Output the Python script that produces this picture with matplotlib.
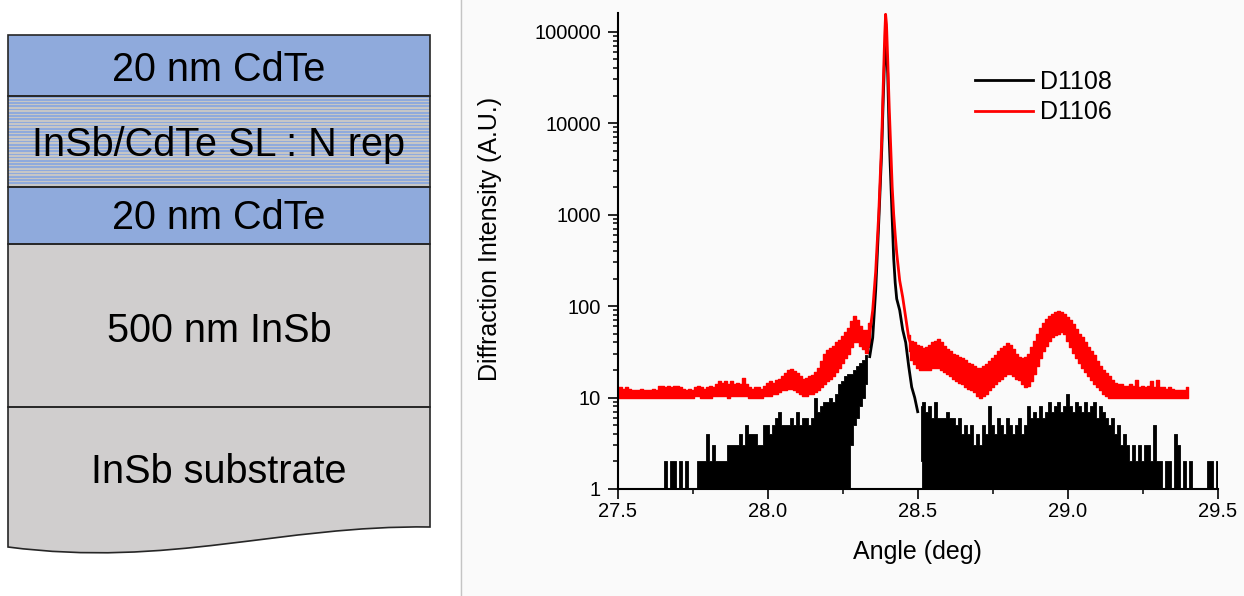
import numpy as np
import matplotlib
matplotlib.use("Agg")
import matplotlib.pyplot as plt
from matplotlib.patches import Rectangle, PathPatch
from matplotlib.path import Path
from matplotlib.lines import Line2D
from matplotlib.ticker import MultipleLocator, LogLocator, NullFormatter

plt.rcParams['font.family'] = ['Liberation Sans', 'DejaVu Sans']

nan = np.nan

# ---- layer stack (left panel) ----
layer_labels = ["20 nm CdTe", "InSb/CdTe SL : N rep", "20 nm CdTe",
                "500 nm InSb", "InSb substrate"]
layer_colors = ["#8faadc", "#8faadc", "#8faadc", "#d0cece", "#d0cece"]

# ---- XRD scan (right panel) ----
# measurement grid: 27.50 ... 29.50 deg, 0.01 deg
angle = np.round(27.50 + 0.01 * np.arange(201), 2)

# D1108 (black): lower / upper envelope of the noisy trace
black_hi = [1, 1, 1, 1, 1, 1, 1, 1, 1, 1,
            1, 1, 1, 1, 1, 1, 2, 1, 2, 2,
            1, 2, 1, 2, 1, 1, 1, 2, 2, 2,
            4, 2, 3, 2, 2, 2, 2, 3, 3, 3,
            3, 4, 3, 5, 4, 4, 4, 3, 3, 5,
            5, 4, 5, 6, 7, 5, 5, 5, 6, 5,
            7, 5, 6, 6, 5, 6, 10, 7, 8, 9,
            9, 10, 9, 11, 14, 15, 17, 18, 18, 20,
            22, 24, 26, 29, nan, nan, nan, nan, nan, nan,
            nan, nan, nan, nan, nan, nan, nan, nan, nan, nan,
            nan, 8, 9, 7, 8, 6, 9, 6, 6, 6,
            7, 6, 6, 5, 6, 4, 5, 4, 5, 3,
            4, 3, 5, 4, 8, 5, 4, 6, 5, 4,
            6, 5, 4, 5, 6, 4, 5, 8, 6, 7,
            6, 8, 6, 7, 9, 7, 8, 9, 7, 8,
            11, 8, 7, 9, 8, 7, 9, 7, 8, 9,
            6, 8, 7, 6, 5, 6, 4, 5, 3, 4,
            3, 2, 3, 2, 3, 2, 3, 3, 2, 5,
            2, 2, 1, 2, 2, 1, 4, 3, 1, 2,
            1, 2, 1, 1, 1, 1, 1, 2, 2, 1,
            2]
black_lo = [1] * 78 + [3, 5, 6, 8, 10, 14] + [nan] * 17 + [2] + [1] * 99

# D1106 (red): 27.50 ... 29.40 deg
red_lo = [10, 10, 10, 10, 10, 10, 10, 10, 10, 10,
          10, 10, 10, 10, 10, 10, 10, 10, 10, 10,
          10, 10, 10, 10, 10, 10, 10.5, 10.5, 10, 10,
          10, 10, 10.5, 10.5, 10.5, 10.5, 10.5, 10, 10.5, 10.5,
          10.5, 10.5, 10.5, 10.5, 10, 10, 10, 10, 10, 10.5,
          10.5, 10.5, 11, 11, 11.5, 12, 12, 12.5, 12.5, 12,
          11.5, 11, 10.5, 10.5, 11, 11, 11.5, 12, 13, 14,
          15, 16, 17, 19, 21, 24, 27, 30, 36, 40,
          40, 37, 34, 31, 36, nan, nan, nan, nan, nan,
          nan, nan, nan, nan, nan, nan, nan, 32, 26, 23,
          21, 20, 20, 20, 20, 21, 21, 21, 20, 19,
          18, 17, 16, 15, 14.5, 14, 13, 12.5, 12, 11.5,
          10.5, 10, 10.5, 11, 12, 13, 14, 15, 16, 17,
          18, 18, 17, 16, 15.5, 14, 13, 13.5, 15, 18,
          22, 27, 32, 37, 42, 46, 48, 50, 52, 50,
          42, 36, 31, 27, 24, 21, 19, 17, 15.5, 14,
          13, 12, 11, 10.5, 10, 10, 10, 10, 10, 10,
          10, 10, 10, 10, 10, 10, 10, 10, 10, 10,
          10, 10, 10, 10, 10, 10, 10, 10, 10, 10,
          10]
red_hi = [13, 13, 12.5, 13, 12.5, 12, 12, 12, 12.5, 12,
          12, 12, 12.5, 12, 13.5, 13.5, 13, 13.5, 13, 13.5,
          13.5, 13, 12.5, 12, 12.5, 12, 13, 13.5, 13, 12.5,
          13, 13.5, 13, 14, 15, 14.5, 15, 14, 15, 14,
          14.5, 14, 16.5, 14, 13, 12.5, 13, 13, 12.5, 13.5,
          14.5, 15, 14.5, 15.5, 16, 17, 18.5, 20, 20.5, 19.5,
          18.5, 17, 16, 16.5, 17, 17.5, 19, 21, 25, 30,
          33, 35, 37, 40, 43, 47, 52, 58, 68, 78,
          70, 60, 55, 55, 65, nan, nan, nan, nan, nan,
          nan, nan, nan, nan, nan, nan, nan, 48, 42, 40,
          38, 37, 35, 36, 38, 40, 42, 44, 40, 37,
          34, 32, 30, 29, 28, 27, 26, 24, 23, 22,
          21, 21, 22, 23, 25, 27, 29, 32, 35, 37,
          39, 38, 34, 30, 28, 27, 28, 30, 36, 42,
          50, 58, 65, 72, 77, 82, 86, 88, 86, 82,
          76, 70, 63, 56, 50, 46, 40, 36, 32, 29,
          25, 22, 20, 18.5, 17, 15.5, 14.5, 14, 14, 13.5,
          13.5, 14, 13.5, 15.5, 13, 13.5, 13, 13.5, 15, 13,
          15.5, 13, 13, 12.5, 13, 12.5, 12, 12, 12, 12,
          13]

# main Bragg peak, finer sampling
peak_angle = [28.34, 28.35, 28.36, 28.37, 28.38, 28.385, 28.39, 28.393, 28.396,
              28.40, 28.405, 28.41, 28.415, 28.42, 28.425, 28.43, 28.44, 28.45,
              28.46, 28.47, 28.48, 28.49, 28.50]
peak_red = [50, 90, 240, 1000, 6500, 25000, 90000, 155000, 120000,
            50000, 15000, 5500, 2000, 1000, 600, 380, 190, 125,
            75, 45, 36, 32, 30]
peak_black = [28, 45, 150, 800, 5000, 18000, 55000, 85000, 60000,
              35000, 7000, 2500, 900, 330, 180, 120, 90, 55,
              40, 22, 13, 10, 7]

series_names = ["D1108", "D1106"]
x_ticks = [27.5, 28.0, 28.5, 29.0, 29.5]
y_ticks = [1, 10, 100, 1000, 10000, 100000]
y_tick_labels = ["1", "10", "100", "1000", "10000", "100000"]

black_hi = np.array(black_hi, dtype=float)
black_lo = np.array(black_lo, dtype=float)
red_lo = np.array(red_lo, dtype=float)
red_hi = np.array(red_hi, dtype=float)

W, H = 1244, 596
fig = plt.figure(figsize=(W / 100, H / 100), dpi=100)

# canvas in pixel units for the diagram and backgrounds
bg = fig.add_axes([0, 0, 1, 1])
bg.set_xlim(0, W)
bg.set_ylim(H, 0)
bg.axis('off')
bg.add_patch(Rectangle((460, 0), W - 460, H, fc='#fafafa', ec='none'))
bg.plot([460.5, 460.5], [0, H], color='#c4c4c4', lw=1)

x0, x1 = 8, 430
tops = [35, 96, 187, 244, 407]
edge = '#262626'
for i in range(4):
    bg.add_patch(Rectangle((x0, tops[i]), x1 - x0, tops[i + 1] - tops[i],
                           fc=layer_colors[i], ec='none'))
# superlattice stripes
for ys in np.arange(tops[1] + 1.5, tops[2] - 1, 3.2):
    bg.add_patch(Rectangle((x0, ys), x1 - x0, 1.6, fc='#c6c6c6', ec='none'))
# substrate with wavy cut
verts = [(x0, tops[4]), (x1, tops[4]), (x1, 527),
         (280, 525), (170, 568), (x0, 547), (x0, tops[4])]
codes = [Path.MOVETO, Path.LINETO, Path.LINETO,
         Path.CURVE4, Path.CURVE4, Path.CURVE4, Path.CLOSEPOLY]
bg.add_patch(PathPatch(Path(verts, codes), fc=layer_colors[4], ec=edge, lw=1.2))
for i in range(4):
    bg.add_patch(Rectangle((x0, tops[i]), x1 - x0, tops[i + 1] - tops[i],
                           fc='none', ec=edge, lw=1.2))

baselines = [81, 156, 229, 342, 483]
for lab, yb in zip(layer_labels, baselines):
    bg.text((x0 + x1) / 2, yb, lab, ha='center', va='baseline',
            fontsize=28.5, color='black')

# ---- XRD plot ----
ax = fig.add_axes([617.7 / W, 107 / H, 600 / W, 476 / H])
ax.patch.set_alpha(0)
ax.set_yscale('log')

ax.fill_between(angle, black_lo, black_hi, step='mid', color='black', lw=0.6)
ax.plot(peak_angle, peak_black, color='black', lw=2)
ax.fill_between(angle[:len(red_lo)], red_lo, red_hi, step='mid', color='red', lw=1)
ax.plot(peak_angle, peak_red, color='red', lw=2)

ax.set_xlim(27.5, 29.5)
ax.set_ylim(1, 1.6e5)
ax.set_xticks(x_ticks)
ax.set_xticklabels([f"{v:.1f}" for v in x_ticks])
ax.xaxis.set_minor_locator(MultipleLocator(0.25))
ax.set_yticks(y_ticks)
ax.set_yticklabels(y_tick_labels)
ax.yaxis.set_minor_locator(LogLocator(base=10, subs=np.arange(2, 10)))
ax.yaxis.set_minor_formatter(NullFormatter())

for s in ['top', 'right']:
    ax.spines[s].set_visible(False)
for s in ['left', 'bottom']:
    ax.spines[s].set_linewidth(1.5)
ax.tick_params(which='major', direction='out', length=7, width=1.2, labelsize=14.5)
ax.tick_params(axis='x', which='major', pad=2.5)
ax.tick_params(axis='y', which='major', pad=5.0)
ax.tick_params(which='minor', direction='out', length=3.8, width=1.1)

ax.set_xlabel("Angle (deg)", fontsize=18)
ax.xaxis.set_label_coords(0.5, -0.108)
ax.set_ylabel("Diffraction Intensity (A.U.)", fontsize=18)
ax.yaxis.set_label_coords(-0.193, 0.525)

handles = [Line2D([], [], color='black', lw=2), Line2D([], [], color='red', lw=2)]
ax.legend(handles, series_names, loc='upper left',
          bbox_to_anchor=(975 / W, 1 - 70 / H), bbox_transform=fig.transFigure,
          frameon=False, fontsize=18, handlelength=2.3, handletextpad=0.3,
          labelspacing=0.25, borderpad=0, borderaxespad=0)

fig.savefig("out.png", dpi=100)
